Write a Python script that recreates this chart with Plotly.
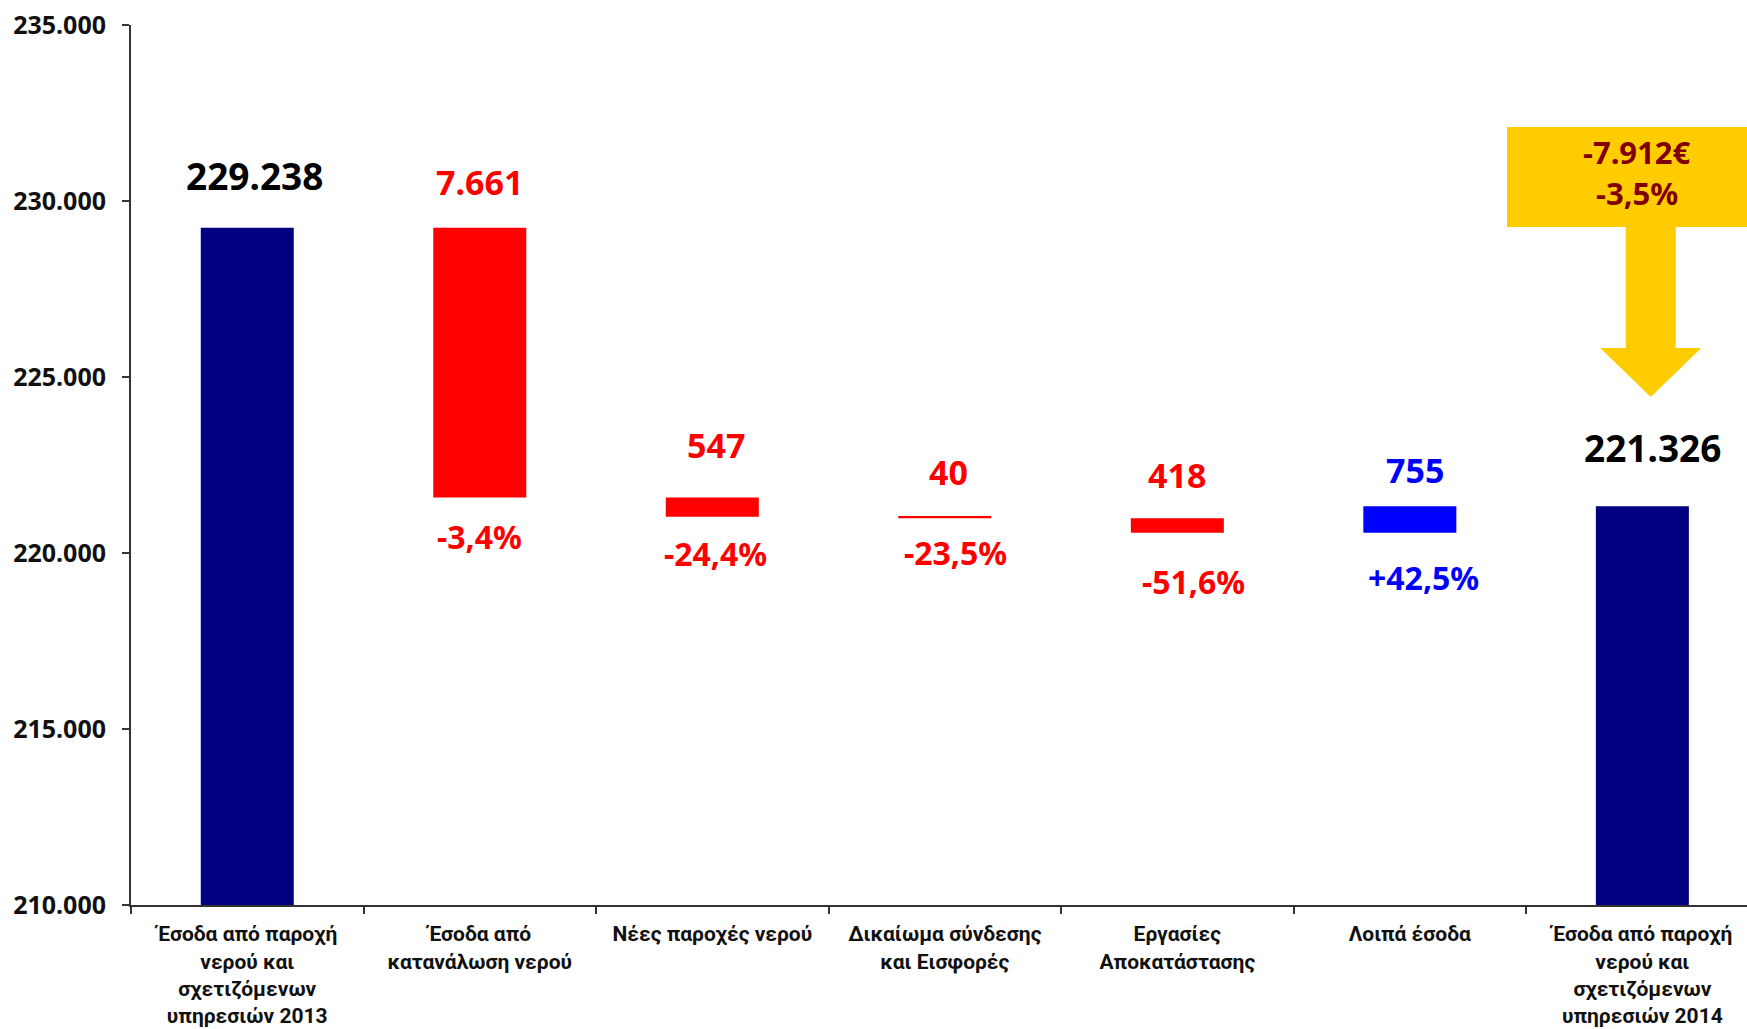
import plotly.graph_objects as go

# ---------------- data ----------------
categories = [
    "Έσοδα από παροχή<br>νερού και<br>σχετιζόμενων<br>υπηρεσιών 2013",
    "Έσοδα από<br>κατανάλωση νερού",
    "Νέες παροχές νερού",
    "Δικαίωμα σύνδεσης<br>και Εισφορές",
    "Εργασίες<br>Αποκατάστασης",
    "Λοιπά έσοδα",
    "Έσοδα από παροχή<br>νερού και<br>σχετιζόμενων<br>υπηρεσιών 2014",
]
measures = ["absolute", "relative", "relative", "relative", "relative", "relative", "absolute"]
values = [229238, -7661, -547, -40, -418, 755, 221326]
value_labels = ["229.238", "7.661", "547", "40", "418", "755", "221.326"]
pct_labels = [None, "-3,4%", "-24,4%", "-23,5%", "-51,6%", "+42,5%", None]
total_change_label = "-7.912€"
total_change_pct = "-3,5%"
y_ticks = [210000, 215000, 220000, 225000, 230000, 235000]

# ---------------- styles ----------------
NAVY = "#000080"
RED = "#FF0000"
BLUE = "#0000FF"
YELLOW = "#FFCC00"
DARKRED = "#800000"
AXIS = "#333333"
NUMFONT = "Noto Sans"
CATFONT = "Roboto"

label_colors = ["#000000", RED, RED, RED, RED, BLUE, "#000000"]
label_sizes = [37, 34, 34, 34, 34, 34, 37]
label_dy = [52, 46, 52, 45, 43, 36, 59]      # pixels above bar top
label_dx = [7, 0, 4, 4, 0, 5, 10]
pct_dy = [0, 39, 37, 34, 49, 45, 0]          # pixels below bar bottom
pct_dx = [0, 0, 3, 11, 16, 14, 0]

fig = go.Figure()
fig.add_trace(go.Waterfall(
    x=categories,
    y=values,
    measure=measures,
    width=0.4,
    connector=dict(visible=False),
    decreasing=dict(marker=dict(color=RED)),
    increasing=dict(marker=dict(color=BLUE)),
    totals=dict(marker=dict(color=NAVY)),
    hoverinfo="skip",
    showlegend=False,
))

# compute bar tops / bottoms from the data
tops, bottoms = [], []
level = 0
for m, v in zip(measures, values):
    if m == "absolute":
        lo, hi = 0, v
        level = v
    else:
        new = level + v
        lo, hi = min(level, new), max(level, new)
        level = new
    tops.append(hi)
    bottoms.append(lo)

annotations = []
for i, lab in enumerate(value_labels):
    annotations.append(dict(
        x=i, y=tops[i], xref="x", yref="y", text=lab, showarrow=False,
        yanchor="middle", xanchor="center", yshift=label_dy[i], xshift=label_dx[i],
        font=dict(family=NUMFONT, size=label_sizes[i], color=label_colors[i], weight="bold"),
    ))
for i, lab in enumerate(pct_labels):
    if lab is None:
        continue
    annotations.append(dict(
        x=i, y=bottoms[i], xref="x", yref="y", text=lab, showarrow=False,
        yanchor="middle", xanchor="center", yshift=-pct_dy[i], xshift=pct_dx[i],
        font=dict(family=NUMFONT, size=32, color=label_colors[i], weight="bold"),
    ))

# yellow call-out arrow (decoration) in data coordinates near last category
c = 6.036
bx0, bx1 = 5.418, 6.7
by_top, by_bot = 232102, 229261
stem_half = 0.1075
head_half = 0.2175
head_y, tip_y = 225824, 224432
path = (
    f"M {bx0},{by_top} L {bx1},{by_top} L {bx1},{by_bot} "
    f"L {c + stem_half},{by_bot} L {c + stem_half},{head_y} L {c + head_half},{head_y} "
    f"L {c},{tip_y} L {c - head_half},{head_y} L {c - stem_half},{head_y} "
    f"L {c - stem_half},{by_bot} L {bx0},{by_bot} Z"
)
fig.add_shape(type="path", path=path, xref="x", yref="y",
              fillcolor=YELLOW, line=dict(width=0), layer="above")

annotations.append(dict(
    x=c, y=231390, xref="x", yref="y", text=total_change_label, showarrow=False,
    xshift=-14, yanchor="middle",
    font=dict(family=NUMFONT, size=31, color=DARKRED, weight="bold"),
))
annotations.append(dict(
    x=c, y=230220, xref="x", yref="y", text=total_change_pct, showarrow=False,
    xshift=-14, yanchor="middle",
    font=dict(family=NUMFONT, size=31, color=DARKRED, weight="bold"),
))

fig.update_layout(
    width=1747, height=1029,
    margin=dict(l=131, r=0, t=25, b=124),
    paper_bgcolor="white", plot_bgcolor="white",
    separators=",.",
    annotations=annotations,
    showlegend=False,
)
fig.update_xaxes(
    type="category",
    range=[-0.5, 6.45],
    showline=True, linecolor=AXIS, linewidth=2,
    ticks="outside", tickson="boundaries", ticklen=7, tickcolor=AXIS, tickwidth=2,
    ticklabelstandoff=9,
    showgrid=False, zeroline=False,
    tickfont=dict(family=CATFONT, size=21, color="#111111", weight="bold"),
)
fig.update_yaxes(
    range=[210000, 235000],
    tickvals=y_ticks,
    tickformat=",d",
    showline=True, linecolor=AXIS, linewidth=2,
    ticks="outside", ticklen=7, tickcolor=AXIS, tickwidth=2,
    ticklabelstandoff=11,
    showgrid=False, zeroline=False,
    tickfont=dict(family=NUMFONT, size=25, color="#111111", weight="bold"),
)

# remove the browser's default 8px page margin so the figure sits at the window origin
fig.write_html(
    "out.html",
    config={"displayModeBar": False},
    post_script="document.body.style.margin='0';document.body.style.overflow='hidden';",
)
